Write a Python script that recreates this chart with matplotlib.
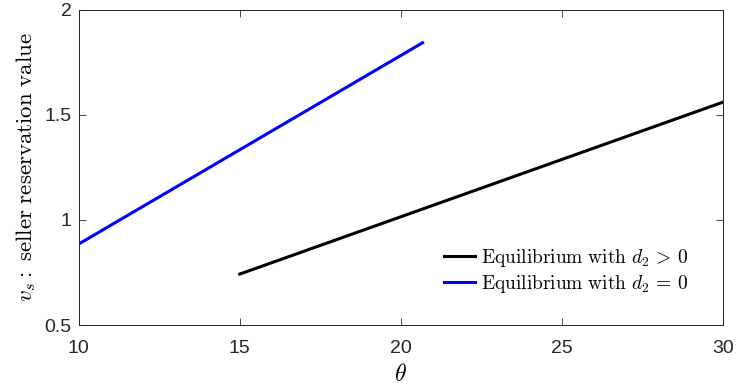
import numpy as np
import matplotlib.pyplot as plt

plt.rcParams['mathtext.fontset'] = 'cm'
plt.rcParams['font.family'] = ['Liberation Sans', 'DejaVu Sans']

# endpoints of the two equilibrium lines
theta_pos = [15.0, 30.0]
vs_pos = [0.742, 1.559]
theta_zero = [10.0, 20.68]
vs_zero = [0.885, 1.842]

xticks = [10, 15, 20, 25, 30]
yticks = [0.5, 1, 1.5, 2]
ytick_labels = ['0.5', '1', '1.5', '2']

fig = plt.figure(figsize=(7.36, 3.92), dpi=100)
ax = fig.add_axes([78.7 / 736, 1 - 325 / 392, (722.7 - 78.7) / 736, (325 - 9.5) / 392])

ax.plot(theta_pos, vs_pos, color='black', lw=2.2,
        label=r'$\mathrm{Equilibrium\ with\ }d_2\,>\,0$')
ax.plot(theta_zero, vs_zero, color='blue', lw=2.2,
        label=r'$\mathrm{Equilibrium\ with\ }d_2\,=\,0$')

ax.set_xlim(10, 30)
ax.set_ylim(0.5, 2)
ax.set_xticks(xticks)
ax.set_yticks(yticks)
ax.set_yticklabels(ytick_labels)
ax.tick_params(direction='in', length=5, width=0.6, labelsize=14, colors='#262626',
               top=True, right=True)
ax.tick_params(axis='x', pad=11)
ax.tick_params(axis='y', pad=5)
for s in ax.spines.values():
    s.set_linewidth(0.7)
    s.set_color('#262626')

ax.set_xlabel(r'$\theta$', fontsize=17, labelpad=5)
ax.set_ylabel(r'$v_s\mathrm{:\ seller\ reservation\ value}$', fontsize=16.5, labelpad=5)

leg = ax.legend(loc='lower right', frameon=False, fontsize=14, handlelength=1.6,
                handletextpad=0.3, labelspacing=0.2, bbox_to_anchor=(0.973, 0.04))

fig.savefig('out.png', dpi=100)
